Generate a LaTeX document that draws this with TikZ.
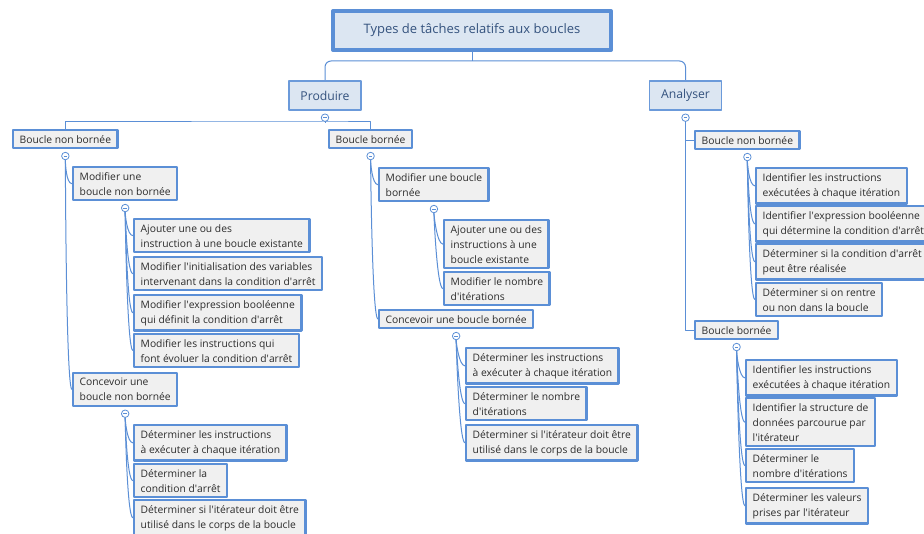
\documentclass[tikz,border=0pt]{standalone}
\usepackage{fontspec}
\setmainfont{Open Sans}
\usetikzlibrary{positioning}
\definecolor{mapblue}{HTML}{5B8FD6}
\definecolor{mapfill}{HTML}{DCE6F2}
\definecolor{leafgray}{HTML}{F0F0F0}
\definecolor{leaftext}{HTML}{2B2B2B}
\definecolor{maptext}{HTML}{34527E}
\newcommand{\ap}{\textquotesingle}
\tikzset{
  every picture/.style={line join=round},
  topic/.style={draw=mapblue, line width=4pt, fill=mapfill, text=maptext,
    font=\fontsize{13}{16}\selectfont, minimum width=278, minimum height=39},
  branch/.style={draw=mapblue!90, line width=1.6pt, fill=mapfill, text=maptext,
    font=\fontsize{12.2}{15}\selectfont, minimum width=72, minimum height=29.5},
  leaf/.style={draw=mapblue, line width=2.4pt, fill=leafgray, text=leaftext,
    font=\fontsize{10.3}{15}\selectfont, align=left, anchor=north west,
    inner xsep=6.5pt, inner ysep=5pt},
  fold/.style={circle, draw=mapblue, fill=white, line width=0.8pt,
    minimum size=7.5pt, inner sep=0pt, below=2.5pt of #1,
    path picture={\draw[mapblue, line width=0.6pt]
      ([xshift=-1.8pt]path picture bounding box.center) --
      ([xshift=1.8pt]path picture bounding box.center);}},
  link/.style={draw=mapblue, line width=1pt},
  hook/.style={link, out=-90, in=180, out distance=2pt, in distance=6pt},
}
\begin{document}
\begin{tikzpicture}[x=1pt, y=-1pt]
\useasboundingbox[fill=white] (0,0) rectangle (924,534);
% root and the two main branches
\node[topic] (title) at (472,30.5) {Types de tâches relatifs aux boucles};
\node[branch] (prod) at (325,95.5) {Produire};
\node[branch] (anal) at (685.5,95.5) {Analyser};
\coordinate (bus0) at (472,61);
\draw[link] (title.south) -- (bus0);
\draw[link, rounded corners=6pt] (prod.north) |- (bus0) -| (anal.north);

% Produire
\node[fold=prod] (fprod) {};
\node[leaf] (pnb) at (12,129) {Boucle non bornée};
\node[leaf] (pb) at (328,129) {Boucle bornée};
\coordinate (bus1) at (325,122);
\draw[link] (fprod.south) -- (bus1);
\draw[link] (pnb.north) |- (bus1) -| (pb.north);

% Produire / boucle non bornee
\node[fold=pnb] (fpnb) {};
\node[leaf] (pmod1) at (72,166) {Modifier une\\boucle non bornée};
\node[leaf] (pcon1) at (72,372) {Concevoir une\\boucle non bornée};
\foreach \c in {pmod1,pcon1} \draw[hook] (fpnb.south) to (\c.west);

\node[fold=pmod1] (fmod1) {};
\node[leaf] (a1) at (133,218) {Ajouter une ou des\\instruction à une boucle existante};
\node[leaf] (a2) at (133,256) {Modifier l\ap initialisation des variables\\intervenant dans la condition d\ap arrêt};
\node[leaf] (a3) at (133,294) {Modifier l\ap expression booléenne\\qui définit la condition d\ap arrêt};
\node[leaf] (a4) at (133,333) {Modifier les instructions qui\\font évoluer la condition d\ap arrêt};
\foreach \c in {a1,a2,a3,a4} \draw[hook] (fmod1.south) to (\c.west);

\node[fold=pcon1] (fcon1) {};
\node[leaf] (b1) at (133,424) {Déterminer les instructions\\à exécuter à chaque itération};
\node[leaf] (b2) at (133,463) {Déterminer la\\condition d\ap arrêt};
\node[leaf] (b3) at (133,499) {Déterminer si l\ap itérateur doit être\\utilisé dans le corps de la boucle};
\foreach \c in {b1,b2,b3} \draw[hook] (fcon1.south) to (\c.west);

% Produire / boucle bornee
\node[fold=pb] (fpb) {};
\node[leaf] (pmod2) at (378,167) {Modifier une boucle\\bornée};
\node[leaf] (pcon2) at (378,309) {Concevoir une boucle bornée};
\foreach \c in {pmod2,pcon2} \draw[hook] (fpb.south) to (\c.west);

\node[fold=pmod2] (fmod2) {};
\node[leaf] (c1) at (443,219) {Ajouter une ou des\\instructions à une\\boucle existante};
\node[leaf] (c2) at (443,271) {Modifier le nombre\\d\ap itérations};
\foreach \c in {c1,c2} \draw[hook] (fmod2.south) to (\c.west);

\node[fold=pcon2] (fcon2) {};
\node[leaf] (d1) at (465,347) {Déterminer les instructions\\à exécuter à chaque itération};
\node[leaf] (d2) at (465,386) {Déterminer le nombre\\d\ap itérations};
\node[leaf] (d3) at (465,424) {Déterminer si l\ap itérateur doit être\\utilisé dans le corps de la boucle};
\foreach \c in {d1,d2,d3} \draw[hook] (fcon2.south) to (\c.west);

% Analyser
\node[fold=anal] (fanal) {};
\node[leaf] (anb) at (694,130) {Boucle non bornée};
\node[leaf] (ab) at (694,320) {Boucle bornée};
\foreach \c in {anb,ab} \draw[link] (fanal.south) |- (\c.west);

\node[fold=anb] (fanb) {};
\node[leaf] (e1) at (755,167) {Identifier les instructions\\exécutées à chaque itération};
\node[leaf] (e2) at (755,205) {Identifier l\ap expression booléenne\\qui détermine la condition d\ap arrêt};
\node[leaf] (e3) at (755,243) {Déterminer si la condition d\ap arrêt\\peut être réalisée};
\node[leaf] (e4) at (755,282) {Déterminer si on rentre\\ou non dans la boucle};
\foreach \c in {e1,e2,e3,e4} \draw[hook] (fanb.south) to (\c.west);

\node[fold=ab] (fab) {};
\node[leaf] (g1) at (745,359) {Identifier les instructions\\exécutées à chaque itération};
\node[leaf] (g2) at (745,397) {Identifier la structure de\\données parcourue par\\l\ap itérateur};
\node[leaf] (g3) at (745,448) {Déterminer le\\nombre d\ap itérations};
\node[leaf] (g4) at (745,487) {Déterminer les valeurs\\prises par l\ap itérateur};
\foreach \c in {g1,g2,g3,g4} \draw[hook] (fab.south) to (\c.west);
\end{tikzpicture}
\end{document}
